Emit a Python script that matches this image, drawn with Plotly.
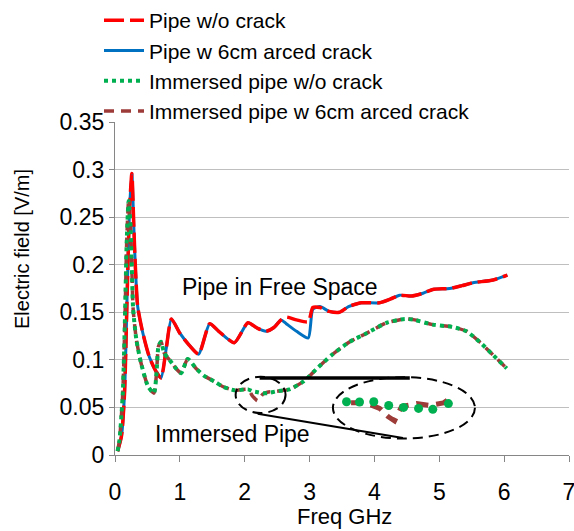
import plotly.graph_objects as go

FONT = "Liberation Sans, Arial, sans-serif"

# ---- data ----
fs_x = [0.04, 0.10, 0.147, 0.188, 0.224, 0.26, 0.29, 0.316, 0.35, 0.43, 0.53, 0.64, 0.71, 0.79, 0.87,
        1.0, 1.15, 1.29, 1.46, 1.6, 1.84, 2.05, 2.2, 2.33, 2.45, 2.56, 2.64, 2.8, 2.98, 3.05, 3.16,
        3.3, 3.46, 3.6, 3.8, 4.08, 4.25, 4.39, 4.57, 4.75, 4.9, 5.16, 5.35, 5.52, 5.83, 6.05]
pipe_no_crack = [0.004, 0.02, 0.065, 0.170, 0.258, 0.296, 0.240, 0.195, 0.156, 0.128, 0.103, 0.087, 0.081, 0.112, 0.143,
                 0.128, 0.115, 0.106, 0.138, 0.130, 0.118, 0.139, 0.133, 0.130, 0.134, 0.142, 0.145, 0.142, 0.140, 0.155, 0.155,
                 0.151, 0.150, 0.156, 0.160, 0.160, 0.164, 0.168, 0.167, 0.170, 0.174, 0.175, 0.178, 0.181, 0.184, 0.189]
pipe_crack = [0.004, 0.02, 0.065, 0.170, 0.258, 0.296, 0.240, 0.195, 0.156, 0.128, 0.103, 0.087, 0.081, 0.112, 0.143,
              0.128, 0.115, 0.106, 0.138, 0.130, 0.118, 0.139, 0.133, 0.130, 0.134, 0.142, 0.138, 0.130, 0.123, 0.153, 0.156,
              0.151, 0.150, 0.156, 0.160, 0.160, 0.164, 0.168, 0.167, 0.170, 0.174, 0.175, 0.178, 0.181, 0.184, 0.189]

im_x = [0.04, 0.07, 0.12, 0.157, 0.18, 0.21, 0.24, 0.26, 0.28, 0.33, 0.40, 0.51, 0.60, 0.64, 0.67, 0.71,
        0.76, 0.84, 0.94, 1.02, 1.12, 1.25, 1.38, 1.54, 1.66, 1.84, 2.05, 2.12, 2.2, 2.28, 2.35, 2.49,
        2.69, 2.9, 3.0, 3.1, 3.34, 3.62, 3.88, 4.19, 4.47, 4.62, 4.9, 5.21, 5.42, 5.62, 5.83, 6.04]
immersed_no_crack = [0.004, 0.016, 0.065, 0.153, 0.223, 0.267, 0.240, 0.195, 0.153, 0.121, 0.097, 0.072, 0.065, 0.086, 0.114, 0.119,
                     0.107, 0.100, 0.091, 0.086, 0.101, 0.091, 0.083, 0.077, 0.072, 0.068, 0.069, 0.067, 0.066, 0.065, 0.065, 0.067,
                     0.069, 0.077, 0.083, 0.090, 0.105, 0.119, 0.128, 0.139, 0.143, 0.142, 0.137, 0.1345, 0.130, 0.119, 0.105, 0.091]
immersed_crack = [0.004, 0.016, 0.065, 0.153, 0.223, 0.267, 0.240, 0.195, 0.153, 0.121, 0.097, 0.072, 0.065, 0.086, 0.114, 0.119,
                  0.107, 0.100, 0.091, 0.086, 0.101, 0.091, 0.083, 0.077, 0.072, 0.068, 0.069, 0.062, 0.057, 0.064, 0.066, 0.067,
                  0.069, 0.077, 0.083, 0.090, 0.105, 0.119, 0.128, 0.139, 0.143, 0.142, 0.137, 0.1345, 0.130, 0.119, 0.105, 0.091]

# magnified inset (inside large ellipse)
inset_dot_x = [3.57, 3.77, 3.99, 4.22, 4.45, 4.68, 4.90, 5.14]
inset_dot_y = [0.056, 0.0557, 0.056, 0.052, 0.050, 0.049, 0.048, 0.054]
inset_dash_x = [3.64, 3.85, 4.08, 4.21, 4.31, 4.42, 4.65, 4.85, 5.06, 5.21]
inset_dash_y = [0.055, 0.055, 0.049, 0.0405, 0.036, 0.051, 0.054, 0.052, 0.0547, 0.0616]

y_ticks = [0, 0.05, 0.1, 0.15, 0.2, 0.25, 0.3, 0.35]
y_tick_text = ["0", "0.05", "0.1", "0.15", "0.2", "0.25", "0.3", "0.35"]
x_ticks = [0, 1, 2, 3, 4, 5, 6, 7]

names = ["Pipe w/o crack", "Pipe w 6cm arced crack", "Immersed pipe w/o crack", "Immersed pipe w 6cm arced crack"]
x_title = "Freq GHz"
y_title = "Electric field [V/m]"

RED = "#FF0000"
BLUE = "#0070C0"
GREEN = "#00B050"
BROWN = "#9C3B38"

fig = go.Figure()
fig.add_trace(go.Scatter(x=fs_x, y=pipe_crack, mode="lines", name=names[1], legendrank=2,
                         line=dict(color=BLUE, width=3, shape="spline", smoothing=0.6)))
fig.add_trace(go.Scatter(x=fs_x, y=pipe_no_crack, mode="lines", name=names[0], legendrank=1,
                         line=dict(color=RED, width=3.5, dash="20px,6px", shape="spline", smoothing=0.6)))
fig.add_trace(go.Scatter(x=im_x, y=immersed_crack, mode="lines", name=names[3], legendrank=4,
                         line=dict(color=BROWN, width=3.5, dash="10px,7px", shape="spline", smoothing=0.6)))
fig.add_trace(go.Scatter(x=im_x, y=immersed_no_crack, mode="lines", name=names[2], legendrank=3,
                         line=dict(color=GREEN, width=4, dash="dot", shape="spline", smoothing=0.6)))
fig.add_trace(go.Scatter(x=inset_dash_x, y=inset_dash_y, mode="lines", showlegend=False,
                         line=dict(color=BROWN, width=5, dash="12px,8px")))
fig.add_trace(go.Scatter(x=inset_dot_x, y=inset_dot_y, mode="markers", showlegend=False,
                         marker=dict(color=GREEN, size=9)))

# annotation shapes
fig.add_shape(type="circle", xref="x", yref="y", x0=1.86, x1=2.63, y0=0.0441, y1=0.0823,
              line=dict(color="black", width=2, dash="10px,6px"))
fig.add_shape(type="circle", xref="x", yref="y", x0=3.36, x1=5.55, y0=0.0173, y1=0.0818,
              line=dict(color="black", width=2, dash="10px,6px"))
fig.add_shape(type="line", xref="x", yref="y", x0=2.23, x1=4.545, y0=0.0809, y1=0.0809,
              line=dict(color="black", width=3.5))
fig.add_shape(type="line", xref="x", yref="y", x0=2.20, x1=4.44, y0=0.0434, y1=0.0179,
              line=dict(color="black", width=2))

fig.add_annotation(x=2.55, y=0.177, text="Pipe in Free Space", showarrow=False,
                   font=dict(family=FONT, size=23, color="black"))
fig.add_annotation(x=1.81, y=0.0224, text="Immersed Pipe", showarrow=False,
                   font=dict(family=FONT, size=23, color="black"))

# axis titles
fig.add_annotation(xref="paper", yref="paper", x=0.5066, y=-0.186, text=x_title, showarrow=False,
                   xanchor="center", yanchor="middle", font=dict(family=FONT, size=22, color="black"))
fig.add_annotation(xref="paper", yref="paper", x=-0.2048, y=0.6186, text=y_title, showarrow=False,
                   textangle=-90, xanchor="center", yanchor="middle",
                   font=dict(family=FONT, size=20, color="black"))

fig.update_layout(
    width=574, height=531,
    margin=dict(l=115, r=5, t=122, b=76, autoexpand=False),
    paper_bgcolor="white", plot_bgcolor="white",
    font=dict(family=FONT, size=22, color="black"),
    showlegend=True,
    legend=dict(xref="container", yref="container", x=99/574, y=1.01,
                xanchor="left", yanchor="top", font=dict(family=FONT, size=21),
                bgcolor="rgba(0,0,0,0)", tracegroupgap=0, itemwidth=40),
    xaxis=dict(range=[0, 7], tickvals=x_ticks, ticks="outside", ticklen=6, tickcolor="#868686",
               showline=True, linecolor="#868686", linewidth=1.3, showgrid=False, zeroline=False,
               ticklabelstandoff=10, tickfont=dict(size=23), automargin=False,
               ticklabeloverflow="allow"),
    yaxis=dict(range=[0, 0.35], tickvals=y_ticks, ticktext=y_tick_text, ticks="outside", ticklen=5,
               tickcolor="#868686", showline=True, linecolor="#868686", linewidth=1.3,
               showgrid=True, gridcolor="#BFBFBF", gridwidth=1.3, zeroline=False,
               tickfont=dict(size=23), automargin=False, ticklabeloverflow="allow"),
)

fig.write_html("out.html")
